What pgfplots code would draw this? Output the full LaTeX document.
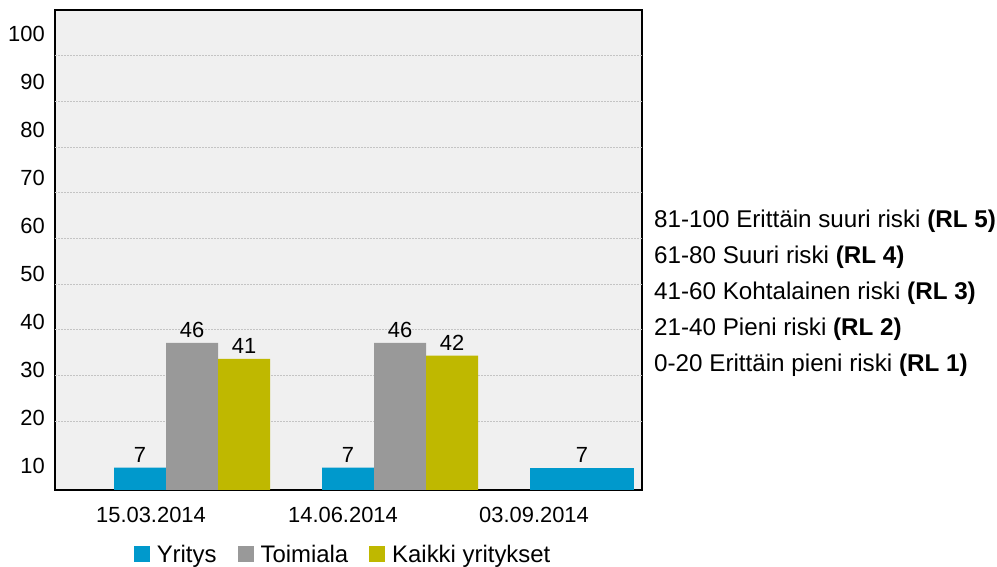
\documentclass[border=0pt]{standalone}
\usepackage{fontspec}
\setmainfont{Liberation Sans}
\usepackage{pgfplots}
\pgfplotsset{compat=1.18}
\definecolor{cBlue}{HTML}{0099CC}
\definecolor{cGray}{HTML}{999999}
\definecolor{cOlive}{HTML}{BFB800}
\definecolor{cBg}{HTML}{F0F0F0}
\definecolor{cGrid}{HTML}{C4C4C4}
\newcommand{\tickfont}{\fontsize{22}{26}\selectfont}
\newcommand{\legfont}{\fontsize{24}{28}\selectfont}
\newcommand{\txtfont}{\fontsize{24.3}{28}\selectfont}
\begin{document}
\begin{tikzpicture}[x=1bp,y=1bp]
\useasboundingbox (0,0) rectangle (997,567);
\begin{axis}[
  at={(55bp,77bp)}, anchor=south west,
  scale only axis, width=587bp, height=480bp,
  xmin=55, xmax=642, ymin=0, ymax=150,
  axis background/.style={fill=cBg},
  axis line style={line width=2bp, black},
  /pgf/number format/assume math mode=true,
  xtick={151,343,534},
  xticklabels={15.03.2014,14.06.2014,03.09.2014},
  ytick={7.5,22.5,37.5,52.5,67.5,82.5,97.5,112.5,127.5,142.5},
  yticklabels={10,20,30,40,50,60,70,80,90,100},
  major tick length=0pt,
  tick label style={font=\tickfont},
  xticklabel style={inner sep=0pt, anchor=north, yshift=-17bp},
  yticklabel style={inner sep=0pt, anchor=east, xshift=-10bp},
  extra y ticks={21.43,35.71,50,64.29,78.57,92.86,107.14,121.43,135.71},
  extra y tick labels={},
  extra y tick style={grid=major},
  major grid style={cGrid, line width=1bp, dash pattern=on 1.5bp off 1.5bp},
  nodes near coords style={font=\tickfont, inner sep=0pt, anchor=south, yshift=5bp},
  legend style={at={(0.489,-0.135)}, anchor=center, draw=none, fill=none,
    font=\legfont, inner sep=0pt,
    nodes={inner xsep=0pt},
    /tikz/every even column/.append style={column sep=21bp}},
  legend columns=3,
  legend image code/.code={\fill[#1] (0bp,-7.5bp) rectangle (16bp,8.5bp); \path (23bp,0bp);},
]
\addplot[ybar, bar width=52, fill=cBlue, draw=none, nodes near coords] coordinates {(140,7) (348,7)};
\addplot[ybar, bar width=52, fill=cGray, draw=none, nodes near coords] coordinates {(192,46) (400,46)};
\addplot[ybar, bar width=52, fill=cOlive, draw=none, nodes near coords] coordinates {(244,41) (452,42)};
\addplot[ybar, bar width=104, fill=cBlue, draw=none, nodes near coords, forget plot] coordinates {(582,7)};
\legend{Yritys,Toimiala,Kaikki yritykset}
\end{axis}
\begin{scope}[every node/.style={anchor=base west, inner sep=0pt, font=\txtfont}]
\node at (654,339.6) {81-100 Erittäin suuri riski \textbf{(RL 5)}};
\node at (654,303.6) {61-80 Suuri riski \textbf{(RL 4)}};
\node at (654,267.6) {41-60 Kohtalainen riski \textbf{(RL 3)}};
\node at (654,231.6) {21-40 Pieni riski \textbf{(RL 2)}};
\node at (654,195.6) {0-20 Erittäin pieni riski \textbf{(RL 1)}};
\end{scope}
\end{tikzpicture}
\end{document}
